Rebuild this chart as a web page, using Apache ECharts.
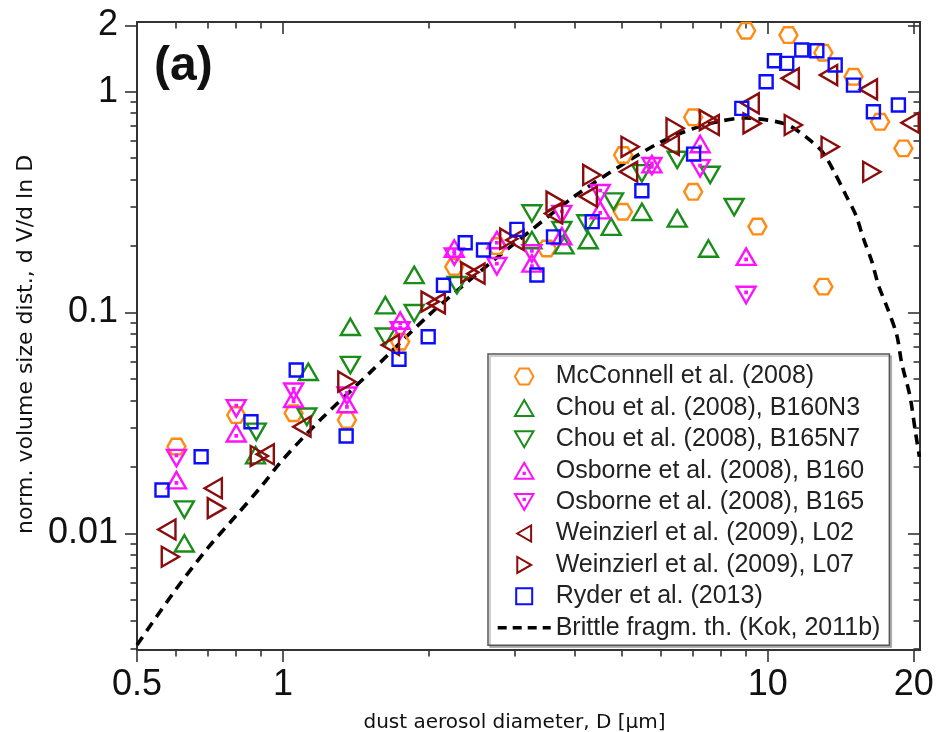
<!DOCTYPE html>
<html><head><meta charset="utf-8">
<script src="https://cdn.jsdelivr.net/npm/echarts@6/dist/echarts.min.js"></script>
<style>html,body{margin:0;padding:0;background:#fff}#c{width:938px;height:732px}</style>
</head><body><div id="c"></div>
<script>
// ---- tick values ----
const xMajorTicks = [0.5, 1, 10, 20];
const xMinorTicks = [0.6, 0.7, 0.8, 0.9, 2, 3, 4, 5, 6, 7, 8, 9];
const yMajorTicks = [0.01, 0.1, 1, 2];
const yMinorTicks = [0.003, 0.004, 0.005, 0.006, 0.007, 0.008, 0.009,
  0.02, 0.03, 0.04, 0.05, 0.06, 0.07, 0.08, 0.09,
  0.2, 0.3, 0.4, 0.5, 0.6, 0.7, 0.8, 0.9];

// ---- series names ----
const seriesNames = ['McConnell et al. (2008)', 'Chou et al. (2008), B160N3', 'Chou et al. (2008), B165N7',
  'Osborne et al. (2008), B160', 'Osborne et al. (2008), B165', 'Weinzierl et al. (2009), L02',
  'Weinzierl et al. (2009), L07', 'Ryder et al. (2013)', 'Brittle fragm. th. (Kok, 2011b)'];

// ---- data [D (um), dV/dlnD] ----
const mcconnell = [[0.603,0.0247],[0.801,0.0343],[1.052,0.0350],[1.355,0.0326],[1.745,0.0737],[2.256,0.161],
  [2.762,0.200],[3.502,0.195],[5.024,0.286],[5.03,0.517],[7.015,0.766],[7.015,0.352],[9.021,1.889],[9.52,0.245],
  [11.03,1.806],[13.02,1.502],[13.02,0.131],[15.02,1.169],[17.04,0.731],[19.04,0.554]];
const chouB160N3 = [[0.626,0.00901],[0.878,0.0226],[1.128,0.0539],[1.377,0.0862],[1.626,0.108],[1.865,0.148],
  [3.262,0.213],[3.80,0.202],[4.262,0.213],[4.752,0.245],[5.50,0.286],[6.503,0.267],[7.543,0.195]];
const chouB165N7 = [[0.626,0.0128],[0.881,0.0288],[1.12,0.0337],[1.377,0.0578],[1.626,0.0777],[1.865,0.0992],
  [2.285,0.133],[3.262,0.281],[3.76,0.236],[4.234,0.253],[4.805,0.318],[5.498,0.427],[6.503,0.491],[7.604,0.420],[8.522,0.300]];
const osborneB160 = [[0.603,0.0174],[0.801,0.0284],[1.052,0.0407],[1.355,0.0385],[1.745,0.092],[2.256,0.195],
  [2.762,0.213],[3.262,0.167],[3.76,0.222],[4.511,0.291],[5.767,0.47],[7.251,0.58],[9.021,0.179]];
const osborneB165 = [[0.603,0.0219],[0.801,0.0368],[1.052,0.0438],[1.355,0.0420],[1.745,0.083],[2.256,0.179],
  [2.762,0.162],[3.262,0.185],[3.76,0.279],[4.511,0.347],[5.767,0.46],[7.251,0.450],[9.021,0.120]];
const weinzierlL02 = [[0.576,0.0104],[0.718,0.0160],[0.919,0.0228],[1.094,0.0304],[1.665,0.0713],[2.071,0.110],
  [2.500,0.150],[3.009,0.213],[3.614,0.281],[4.262,0.335],[5.16,0.434],[6.29,0.574],[7.604,0.707],[9.194,0.886],
  [11.12,1.150],[13.34,1.190],[16.12,1.025],[19.65,0.724]];
const weinzierlL07 = [[0.586,0.00783],[0.729,0.0130],[0.894,0.0224],[1.355,0.0486],[2.012,0.112],[2.430,0.152],
  [2.924,0.216],[3.643,0.318],[4.336,0.420],[5.201,0.563],[6.441,0.683],[7.543,0.744],[9.282,0.719],[11.29,0.707],
  [13.45,0.563],[16.39,0.434]];
const ryder = [[0.563,0.0157],[0.678,0.0222],[0.859,0.0320],[1.065,0.0549],[1.35,0.0276],[1.735,0.0614],[1.993,0.0777],
  [2.143,0.133],[2.376,0.207],[2.592,0.192],[3.037,0.238],[3.34,0.148],[3.614,0.220],[4.343,0.258],[5.498,0.356],
  [7.03,0.522],[8.838,0.841],[9.92,1.110],[10.32,1.382],[10.94,1.345],[11.75,1.545],[12.62,1.533],[13.77,1.321],
  [15.02,1.072],[16.51,0.812],[18.59,0.871]];
const kokTheory = [[0.5,0.00312],[0.6,0.00553],[0.7,0.00858],[0.8,0.0120],[0.9,0.0162],[1.0,0.0216],[1.2,0.0330],
  [1.5,0.0526],[2,0.0974],[2.5,0.148],[3,0.205],[4,0.337],[5,0.466],[6,0.59],[7,0.68],[8,0.737],[9,0.760],[10,0.744],
  [11,0.707],[12,0.623],[12.96,0.534],[13.70,0.434],[14.49,0.340],[15.19,0.276],[15.74,0.217],[16.39,0.170],
  [16.91,0.133],[17.60,0.1063],[18.45,0.079],[18.89,0.0589],[19.65,0.0416],[20.13,0.0294],[20.54,0.0222]];

// ---- styling ----
const X_MIN = 0.5, X_MAX = 20.6, Y_MIN = 0.00296, Y_MAX = 2.07;
const AX = '#333';
const SYM = {
  hex: 'path://M-10,0L-5,-8.66L5,-8.66L10,0L5,8.66L-5,8.66Z',
  up: 'path://M0,-10L8.66,5L-8.66,5Z',
  down: 'path://M0,10L8.66,-5L-8.66,-5Z',
  upDot: 'path://M0,-10L8.66,5L-8.66,5Z M-0.6,-0.6L0.6,-0.6L0.6,0.6L-0.6,0.6Z',
  downDot: 'path://M0,10L8.66,-5L-8.66,-5Z M-0.6,-0.6L0.6,-0.6L0.6,0.6L-0.6,0.6Z',
  left: 'path://M-10,0L5,-8.66L5,8.66Z',
  right: 'path://M10,0L-5,-8.66L-5,8.66Z',
  square: 'path://M-5,-5L5,-5L5,5L-5,5Z'
};

function xAx(pos, ticks, len, inside, showLine, showLabels) {
  return {
    type: 'log', logBase: 10, min: X_MIN, max: X_MAX, position: pos,
    axisLine: {show: showLine, lineStyle: {color: AX, width: 2}},
    axisTick: {show: true, customValues: ticks, length: len, inside: inside, lineStyle: {color: AX, width: 1.6}},
    axisLabel: showLabels ? {show: true, customValues: xMajorTicks, margin: 17, fontSize: 36,
      fontFamily: 'Liberation Sans, Arial, sans-serif', color: '#111', formatter: v => String(v)} : {show: false},
    splitLine: {show: false}, minorTick: {show: false}
  };
}
function yAx(pos, ticks, len, inside, showLine, showLabels) {
  return {
    type: 'log', logBase: 10, min: Y_MIN, max: Y_MAX, position: pos,
    axisLine: {show: showLine, lineStyle: {color: AX, width: 2}},
    axisTick: {show: true, customValues: ticks, length: len, inside: inside, lineStyle: {color: AX, width: 1.6}},
    axisLabel: showLabels ? {show: true, customValues: yMajorTicks, margin: 19, fontSize: 36,
      fontFamily: 'Liberation Sans, Arial, sans-serif', color: '#111', formatter: v => String(v)} : {show: false},
    splitLine: {show: false}, minorTick: {show: false}
  };
}

const xAxes = [
  xAx('bottom', xMajorTicks, 12, false, true, true),
  xAx('bottom', xMinorTicks, 6.5, false, false, false),
  xAx('top', xMajorTicks, 12, true, true, false),
  xAx('top', xMinorTicks, 6.5, true, false, false)
];
Object.assign(xAxes[0], {
  name: 'dust aerosol diameter, D [\u03bcm]', nameLocation: 'middle', nameGap: 63,
  nameTextStyle: {fontSize: 20, fontFamily: 'DejaVu Sans, sans-serif', color: '#111', padding: [0, 28, 0, 0]}
});
const yAxes = [
  yAx('left', yMajorTicks, 12, false, true, true),
  yAx('left', yMinorTicks, 6.5, false, false, false),
  yAx('right', yMajorTicks, 12, true, true, false),
  yAx('right', yMinorTicks, 6.5, true, false, false)
];
Object.assign(yAxes[0], {
  name: 'norm. volume size dist., d V/d ln D', nameLocation: 'middle', nameGap: 95, nameRotate: 90,
  nameTextStyle: {fontSize: 22, fontFamily: 'DejaVu Sans, sans-serif', color: '#111', padding: [0, 17, 0, 0]}
});

function scatter(name, data, symbol, size, color) {
  return {
    name: name, type: 'scatter', data: data, symbol: symbol, symbolSize: size, symbolKeepAspect: true,
    xAxisIndex: 0, yAxisIndex: 0, z: 3,
    itemStyle: {color: 'transparent', borderColor: color, borderWidth: 2.4, opacity: 1},
    emphasis: {disabled: true}
  };
}

const ORANGE = '#ff8a14', GREEN = '#1a8c1a', MAGENTA = '#ff10ff', DRED = '#8b0c0c', BLUE = '#0c0cff';

const series = [
  {
    name: seriesNames[8], type: 'line', data: kokTheory, xAxisIndex: 0, yAxisIndex: 0, z: 2,
    symbol: 'none', showSymbol: false, smooth: 0.3,
    lineStyle: {color: '#000', width: 3.6, type: [10, 7], cap: 'butt'},
    itemStyle: {color: '#000'}, emphasis: {disabled: true}
  },
  scatter(seriesNames[0], mcconnell, SYM.hex, 18, ORANGE),
  scatter(seriesNames[1], chouB160N3, SYM.up, 19, GREEN),
  scatter(seriesNames[2], chouB165N7, SYM.down, 19, GREEN),
  scatter(seriesNames[3], osborneB160, SYM.upDot, 19, MAGENTA),
  scatter(seriesNames[4], osborneB165, SYM.downDot, 19, MAGENTA),
  scatter(seriesNames[5], weinzierlL02, SYM.left, 20, DRED),
  scatter(seriesNames[6], weinzierlL07, SYM.right, 20, DRED),
  scatter(seriesNames[7], ryder, SYM.square, 13, BLUE)
];

const legendData = seriesNames.map((n, i) => i === 8
  ? {name: n, itemStyle: {color: 'transparent', borderColor: 'transparent', borderWidth: 0, opacity: 0},
     lineStyle: {color: '#000', width: 3.4, type: [9, 6]}}
  : {name: n});

const chart = echarts.init(document.getElementById('c'), null, {renderer: 'canvas', width: 938, height: 732});
chart.setOption({
  animation: false,
  backgroundColor: '#fff',
  title: {
    text: '(a)', left: 154, top: 43, padding: 0,
    textStyle: {fontSize: 48, fontWeight: 'bold', fontFamily: 'Liberation Sans, Arial, sans-serif', color: '#111'}
  },
  grid: {left: 137, right: 18, top: 22, bottom: 82, containLabel: false, outerBoundsMode: 'none'},
  xAxis: xAxes,
  yAxis: yAxes,
  legend: {
    data: legendData, orient: 'vertical', align: 'left', left: 488, top: 354,
    padding: [10, 9, 5, 8], itemGap: 6.4, itemWidth: 53, itemHeight: 16,
    backgroundColor: '#fff', borderColor: '#555', borderWidth: 1.5,
    shadowColor: 'rgba(0,0,0,0.25)', shadowOffsetX: 2, shadowOffsetY: 2, shadowBlur: 0,
    symbolKeepAspect: true, selectedMode: false,
    textStyle: {fontSize: 25, lineHeight: 25, fontFamily: 'Liberation Sans, Arial, sans-serif', color: '#222'}
  },
  series: series
});
</script>
</body></html>
